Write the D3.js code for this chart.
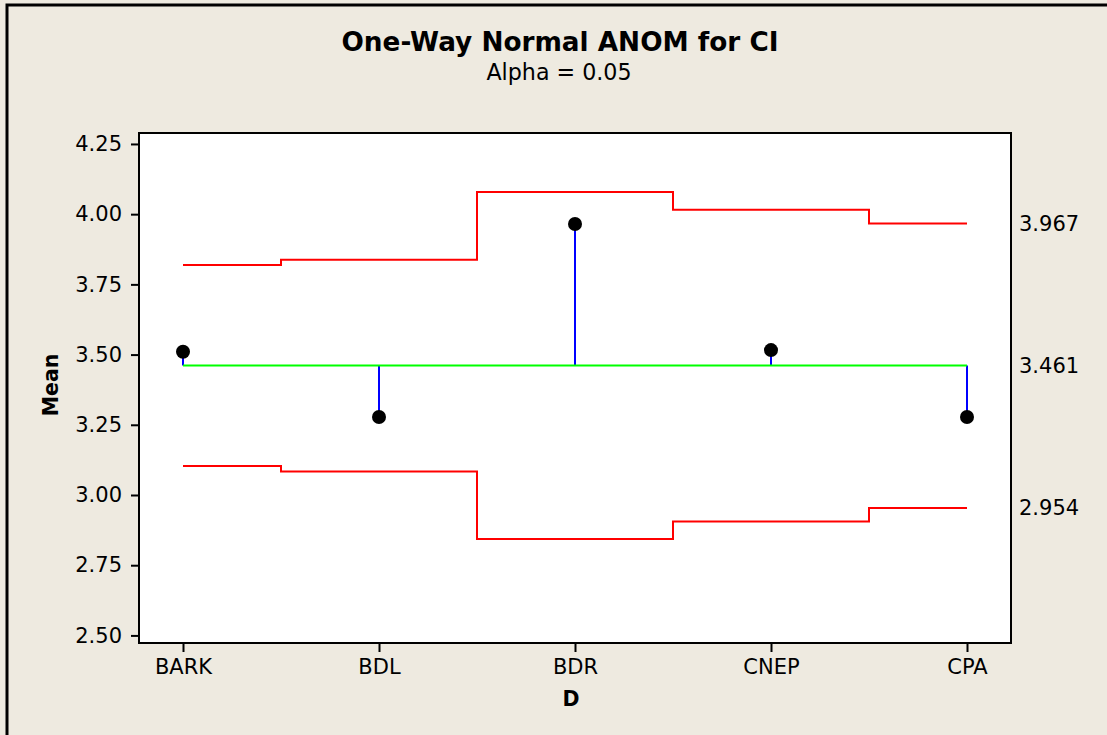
<!DOCTYPE html>
<html>
<head>
<meta charset="utf-8">
<script src="https://cdn.jsdelivr.net/npm/d3@7"></script>
<style>
  body { margin: 0; background: #EEEAE0; }
  svg { display: block; }
</style>
</head>
<body>
<div id="chart"></div>
<script>
// one-way ANOM chart for CI

// data
const groups = ["BARK", "BDL", "BDR", "CNEP", "CPA"];
const means = [3.510, 3.278, 3.965, 3.516, 3.278];
const upperLimits = [3.819, 3.838, 4.079, 4.016, 3.967];
const lowerLimits = [3.103, 3.084, 2.843, 2.906, 2.954];
const centerLine = 3.461;
const yTicks = [2.50, 2.75, 3.00, 3.25, 3.50, 3.75, 4.00, 4.25];
const refLabels = [3.967, 3.461, 2.954]; // labels on the right side

const w = 1107, h = 735;
const plot = {left: 139, right: 1011, top: 133, bottom: 643};
const fontFamily = "'DejaVu Sans', Verdana, sans-serif";
const bg = "#EEEAE0";
const fontTick = "21px";

const svg = d3.select("#chart")
  .append("svg")
  .attr("width", w)
  .attr("height", h);

// background and outer frame (only top and left edges are visible)
svg.append("rect").attr("width", w).attr("height", h).attr("fill", bg);
svg.append("path")
  .attr("d", `M7,${h} L7,5 L${w},5`)
  .attr("fill", "none")
  .attr("stroke", "black")
  .attr("stroke-width", 3);

// scales
const x = d3.scalePoint()
  .domain(groups)
  .range([183, 967]);

const y = d3.scaleLinear()
  .domain([2.473, 4.289])
  .range([plot.bottom, plot.top]);

// plot area
svg.append("rect")
  .attr("x", plot.left)
  .attr("y", plot.top)
  .attr("width", plot.right - plot.left)
  .attr("height", plot.bottom - plot.top)
  .attr("fill", "white")
  .attr("stroke", "black")
  .attr("stroke-width", 2);

// axes
const yAxis = svg.append("g")
  .attr("transform", `translate(${plot.left},0)`)
  .call(d3.axisLeft(y).tickValues(yTicks).tickFormat(d3.format(".2f")).tickSizeOuter(0).tickSize(8).tickPadding(9))
  .call(g => g.select(".domain").remove())
  .call(g => g.selectAll(".tick line").attr("stroke-width", 2))
  .call(g => g.selectAll(".tick text")
    .attr("font-family", fontFamily).attr("font-size", fontTick).attr("fill", "black"));

const xAxis = svg.append("g")
  .attr("transform", `translate(0,${plot.bottom})`)
  .call(d3.axisBottom(x).tickSizeOuter(0).tickSize(9).tickPadding(7))
  .call(g => g.select(".domain").remove())
  .call(g => g.selectAll(".tick line").attr("stroke-width", 2))
  .call(g => g.selectAll(".tick text")
    .attr("font-family", fontFamily).attr("font-size", fontTick).attr("fill", "black"));

// decision limits as step lines
const step = x.step();
const last = groups.length - 1;
function stepPoints(values) {
  const pts = [];
  groups.forEach((g, i) => {
    const left = i === 0 ? x(g) : x(g) - step / 2;
    const right = i === last ? x(g) : x(g) + step / 2;
    pts.push([left, values[i]], [right, values[i]]);
  });
  return pts;
}
const limitLine = d3.line()
  .x(d => d[0])
  .y(d => y(d[1]));

[upperLimits, lowerLimits].forEach(vals => {
  svg.append("path")
    .attr("d", limitLine(stepPoints(vals)))
    .attr("fill", "none")
    .attr("stroke", "#FF0000")
    .attr("stroke-width", 2);
});

// stems from center line to the means
svg.append("g")
  .selectAll("line")
  .data(groups)
  .join("line")
    .attr("x1", d => x(d))
    .attr("x2", d => x(d))
    .attr("y1", y(centerLine))
    .attr("y2", (d, i) => y(means[i]))
    .attr("stroke", "#0000FF")
    .attr("stroke-width", 2);

// center line
svg.append("line")
  .attr("x1", x(groups[0]))
  .attr("x2", x(groups[last]))
  .attr("y1", y(centerLine))
  .attr("y2", y(centerLine))
  .attr("stroke", "#00FF00")
  .attr("stroke-width", 2);

// mean points
svg.append("g")
  .selectAll("circle")
  .data(groups)
  .join("circle")
    .attr("cx", d => x(d))
    .attr("cy", (d, i) => y(means[i]))
    .attr("r", 7)
    .attr("fill", "black");

// labels on the right for limits and center
svg.append("g")
  .selectAll("text")
  .data(refLabels)
  .join("text")
    .attr("x", 1019)
    .attr("y", d => y(d))
    .attr("dy", "0.36em")
    .attr("font-family", fontFamily)
    .attr("font-size", fontTick)
    .text(d => d3.format(".3f")(d));

// titles
svg.append("text")
  .attr("x", 560)
  .attr("y", 51)
  .attr("text-anchor", "middle")
  .attr("font-family", fontFamily)
  .attr("font-weight", "bold")
  .attr("font-size", "26.3px")
  .text("One-Way Normal ANOM for CI");

svg.append("text")
  .attr("x", 559)
  .attr("y", 80)
  .attr("text-anchor", "middle")
  .attr("font-family", fontFamily)
  .attr("font-size", "22.2px")
  .text("Alpha = 0.05");

// axis titles
svg.append("text")
  .attr("transform", "rotate(-90)")
  .attr("x", -385)
  .attr("y", 58)
  .attr("text-anchor", "middle")
  .attr("font-family", fontFamily)
  .attr("font-weight", "bold")
  .attr("font-size", "20.5px")
  .text("Mean");

svg.append("text")
  .attr("x", 571)
  .attr("y", 706)
  .attr("text-anchor", "middle")
  .attr("font-family", fontFamily)
  .attr("font-weight", "bold")
  .attr("font-size", "20.5px")
  .text("D");
</script>
</body>
</html>
